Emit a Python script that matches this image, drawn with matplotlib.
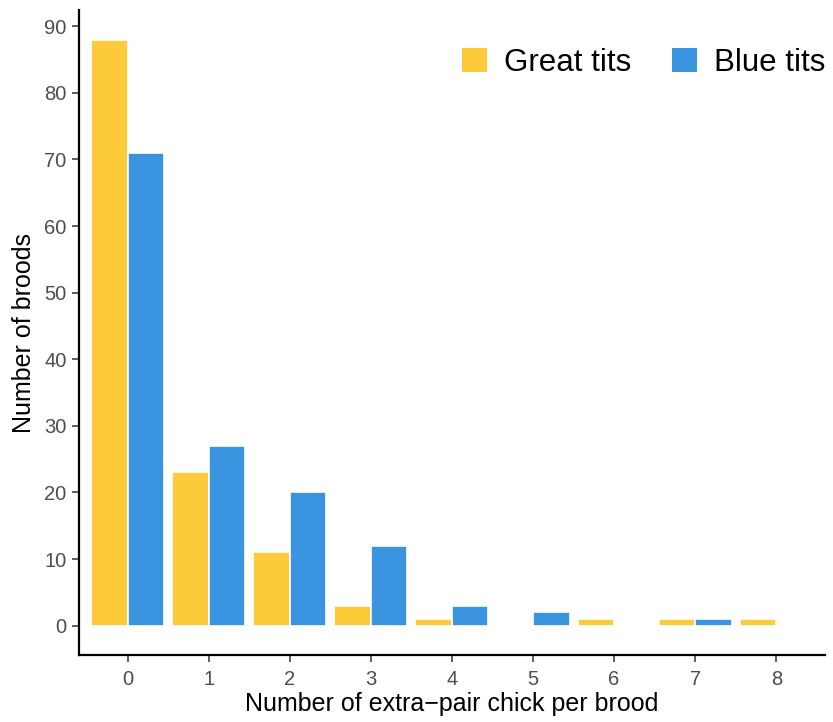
import matplotlib
matplotlib.use("Agg")
import matplotlib.pyplot as plt
import numpy as np
from matplotlib.patches import Patch

plt.rcParams['font.family'] = ['Liberation Sans', 'DejaVu Sans']

chicks = [0, 1, 2, 3, 4, 5, 6, 7, 8]
great_tits = [88, 23, 11, 3, 1, 0, 1, 1, 1]
blue_tits = [71, 27, 20, 12, 3, 2, 0, 1, 0]
tick_labels = ["0", "1", "2", "3", "4", "5", "6", "7", "8"]
yticks = [0, 10, 20, 30, 40, 50, 60, 70, 80, 90]

c_great = "#FDCB3A"
c_blue = "#3B94E0"

fig = plt.figure(figsize=(8.33, 7.22), dpi=100)
ax = fig.add_axes([0.0948, 0.0928, 0.8955, 0.893])

x = np.arange(len(chicks))
w = 0.45
ax.bar(x - w / 2, great_tits, width=w, color=c_great, edgecolor="white", linewidth=1.2)
ax.bar(x + w / 2, blue_tits, width=w, color=c_blue, edgecolor="white", linewidth=1.2)

ax.set_xlim(-0.6, 8.6)
ax.set_ylim(-4.4, 92.4)
ax.set_xticks(x)
ax.set_xticklabels(tick_labels)
ax.set_yticks(yticks)

for side in ("top", "right"):
    ax.spines[side].set_visible(False)
for side in ("left", "bottom"):
    ax.spines[side].set_linewidth(1.6)
    ax.spines[side].set_color("black")

ax.tick_params(axis="both", colors="#333333", labelcolor="#4D4D4D", labelsize=14.5,
               length=5, width=1.1, pad=4)
ax.tick_params(axis="x", pad=6)

ax.set_xlabel("Number of extra\u2212pair chick per brood", fontsize=18, labelpad=2)
ax.set_ylabel("Number of broods", fontsize=18, labelpad=6)

handles = [Patch(facecolor=c_great, edgecolor="none", label="Great tits"),
           Patch(facecolor=c_blue, edgecolor="none", label="Blue tits")]
ax.legend(handles=handles, loc="upper right", ncol=2, frameon=False, fontsize=22.5,
          handlelength=0.8, handleheight=0.8, handletextpad=0.55, columnspacing=1.3,
          bbox_to_anchor=(1.03, 0.975), borderaxespad=0.3)

fig.savefig("out.png", dpi=100)
